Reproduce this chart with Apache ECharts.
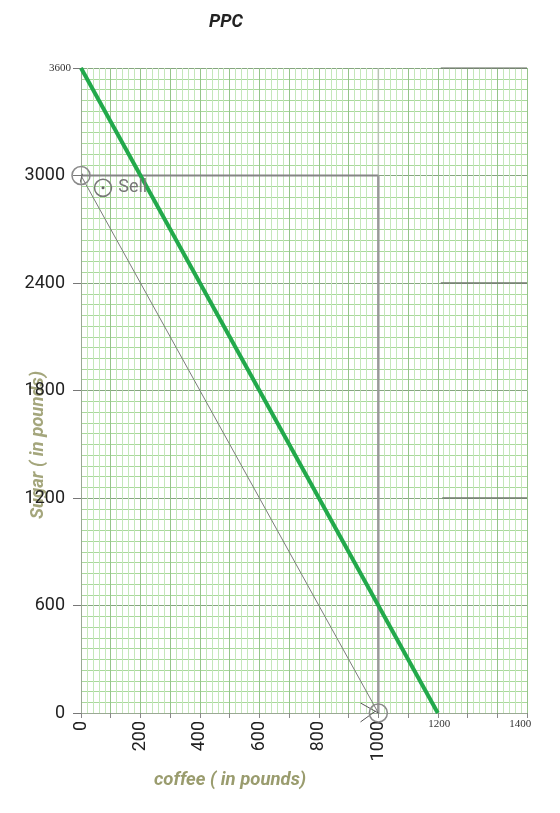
<!DOCTYPE html>
<html>
<head>
<meta charset="utf-8">
<script src="https://cdn.jsdelivr.net/npm/echarts@6/dist/echarts.min.js"></script>
<style>html,body{margin:0;padding:0;background:#fff}#c{width:560px;height:813px}</style>
</head>
<body>
<div id="c"></div>
<script>
// ---- data ----
const xLeftTicks = [0, 200, 400, 600, 800, 1000];
const xRightLabels = ['1200', '1400'];
const yTicks = [0, 600, 1200, 1800, 2400, 3000, 3600];
const newPPC = [[0, 3600], [1200, 0]];
const oldPPC = [[0, 3000], [1000, 0]];
const boxTop = [[0, 3000], [1000, 3000]];
const boxRight = [[1000, 3000], [1000, 0]];
const endPoints = [[0, 3000], [1000, 0]];
const sellPoint = [[74, 2931]];
const newPPCLabelPoint = [[1235, 173]];
const paperEdges = [
  [[1210, 3600], [1500, 3600]],
  [[1210, 2400], [1500, 2400]],
  [[1215, 1200], [1500, 1200]]
];

const chart = echarts.init(document.getElementById('c'));
const olive = '#9a9c6e';

const series = [];
paperEdges.forEach(seg => series.push({
  type: 'line', data: seg, symbol: 'none', silent: true,
  lineStyle: { color: '#6f7a6c', width: 1.5 }, z: 2
}));
series.push({
  type: 'line', data: [[1000, 3600], [1000, 3000]], symbol: 'none',
  lineStyle: { color: '#b8c4b4', width: 1.5 }, z: 2
});
series.push({
  type: 'line', data: boxTop, symbol: 'none',
  lineStyle: { color: '#858585', width: 2 }, z: 3
});
series.push({
  type: 'line', data: boxRight, symbol: 'none',
  lineStyle: { color: '#999999', width: 2.5 }, z: 3
});
series.push({
  type: 'line', data: oldPPC, symbol: 'none',
  lineStyle: { color: '#7a7a7a', width: 1 }, z: 4
});
series.push({
  type: 'line', data: newPPC, symbol: 'none',
  lineStyle: { color: '#22a94b', width: 4 }, z: 5
});
// small arrow strokes near circles
series.push({ type: 'line', data: [[-20, 2860], [5, 3010]], symbol: 'none', clip: false, lineStyle: { color: '#666', width: 1 }, z: 4 });
series.push({ type: 'line', data: [[940, 56], [1000, 0]], symbol: 'none', clip: false, lineStyle: { color: '#555', width: 1 }, z: 4 });
series.push({ type: 'line', data: [[940, -50], [990, 10]], symbol: 'none', clip: false, lineStyle: { color: '#555', width: 1 }, z: 4 });
series.push({
  type: 'scatter', data: endPoints, symbol: 'circle', symbolSize: 18, clip: false,
  itemStyle: { color: 'rgba(255,255,255,0)', borderColor: '#8a8a8a', borderWidth: 1.5, opacity: 1 }, z: 6
});
series.push({
  type: 'scatter', data: sellPoint, symbol: 'circle', symbolSize: 17, clip: false,
  itemStyle: { color: 'rgba(255,255,255,0)', borderColor: '#777', borderWidth: 1.5, opacity: 1 },
  label: { show: true, position: 'right', distance: 6, formatter: 'Sell', color: '#777', fontSize: 18, fontFamily: 'Roboto' },
  z: 6
});
series.push({
  type: 'scatter', data: sellPoint, symbol: 'circle', symbolSize: 3, clip: false,
  itemStyle: { color: '#666', opacity: 1 }, z: 7
});
series.push({
  type: 'scatter', data: newPPCLabelPoint, symbol: 'none', clip: false,
  label: { show: true, position: 'inside', formatter: 'New PPC', color: '#222', fontSize: 12, fontFamily: 'Liberation Serif' },
  z: 7
});

const option = {
  animation: false,
  title: {
    text: 'PPC', left: 204, top: 8,
    textStyle: { fontSize: 18, fontWeight: 'bold', fontStyle: 'italic', fontFamily: 'Roboto', color: '#222' }
  },
  grid: { left: 81, right: 33, top: 68, bottom: 100, containLabel: false },
  xAxis: [{
    type: 'value', min: 0, max: 1500, interval: 100,
    axisLine: { show: true, lineStyle: { color: '#9aa894', width: 1 } },
    axisTick: { show: true, length: 5, lineStyle: { color: '#888' } },
    axisLabel: {
      rotate: 90, margin: 8, fontSize: 18, color: '#222', fontFamily: 'Roboto',
      customValues: xLeftTicks,
      formatter: v => String(v)
    },
    splitLine: { show: true, lineStyle: { color: '#95c48a', width: 1 } },
    minorTick: { show: false, splitNumber: 5 },
    minorSplitLine: { show: true, lineStyle: { color: '#c4e7ba', width: 1 } }
  }, {
    type: 'value', min: 0, max: 1500, position: 'bottom',
    axisLine: { show: false }, axisTick: { show: false }, splitLine: { show: false },
    axisLabel: {
      margin: 6, fontSize: 11, color: '#333', fontFamily: 'Liberation Serif',
      customValues: [1205, 1477],
      formatter: v => (v < 1300 ? xRightLabels[0] : xRightLabels[1])
    }
  }],
  yAxis: {
    type: 'value', min: 0, max: 3600, interval: 600,
    axisLine: { show: true, lineStyle: { color: '#9aa894', width: 1 } },
    axisTick: { show: true, length: 8, lineStyle: { color: '#777' } },
    axisLabel: {
      margin: 16, fontSize: 18, color: '#222', fontFamily: 'Roboto',
      formatter: v => (v === 3600 ? '{s|' + v + '}' : String(v)),
      rich: { s: { fontSize: 11, fontFamily: 'Liberation Serif', color: '#333', padding: [0, -6, 0, 0] } }
    },
    splitLine: { show: true, lineStyle: { color: '#86a580', width: 1 } },
    minorTick: { show: false, splitNumber: 10 },
    minorSplitLine: { show: true, lineStyle: { color: '#a9d99b', width: 1 } }
  },
  graphic: [{
    type: 'text', left: 154, top: 771,
    style: { text: 'coffee ( in pounds)', font: 'italic bold 18.5px Roboto', fill: olive }
  }, {
    type: 'text', x: 38, y: 445, rotation: Math.PI / 2, originX: 0, originY: 0,
    style: { text: 'Sugar ( in pounds)', font: 'italic bold 18.5px Roboto', fill: olive, align: 'center', verticalAlign: 'middle', opacity: 0.9 },
    z: 0
  }],
  series: series.map((s, i) => Object.assign({ xAxisIndex: 0, yAxisIndex: 0 }, s))
};
chart.setOption(option);
</script>
</body>
</html>
